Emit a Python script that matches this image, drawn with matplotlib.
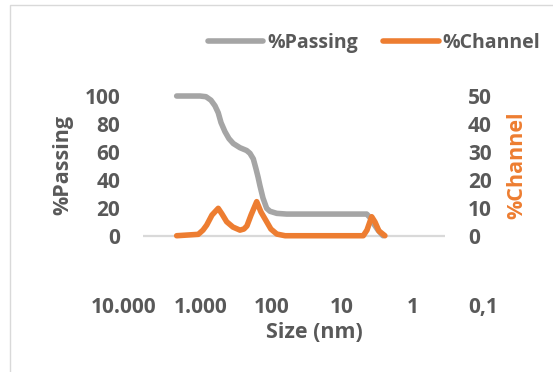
import matplotlib
matplotlib.use('Agg')
import matplotlib.pyplot as plt
import matplotlib.transforms as mtransforms
from matplotlib.patches import Rectangle

plt.rcParams['font.family'] = ['Open Sans', 'DejaVu Sans']
plt.rcParams['font.weight'] = 'bold'

# %Passing (left axis) vs size in nm
passing_size = [2212, 1432, 1033, 849, 722, 633, 569, 520, 457, 401, 348, 280,
                225, 202, 181, 166, 155, 146, 132, 117, 105, 84, 61, 4.46,
                4.0, 3.6, 3.08, 2.62]
passing = [100, 100, 100, 99.5, 97, 93, 88, 81, 74.5, 69.5, 66, 63,
           61, 59, 55, 48, 42, 36, 27, 19.6, 17.5, 16, 15.5, 15.5,
           13, 9, 4, 0]

# %Channel (right axis) vs size in nm
channel_size = [2212, 1092, 937, 830, 698, 569, 504, 432, 352, 280, 246, 223,
                195, 162, 141, 117, 102, 84, 64, 4.99, 4.42, 3.79, 3.4, 2.99, 2.46]
channel = [0, 0.5, 2, 3.8, 7.4, 9.8, 7.8, 5, 3.1, 2, 2.4, 3.5,
           7.4, 12.2, 8.5, 5, 2.4, 0.6, 0, 0, 2, 6.8, 4.9, 1.7, 0]

x_ticks = [10000, 1000, 100, 10, 1, 0.1]
x_labels = ['10.000', '1.000', '100', '10', '1', '0,1']
left_ticks = [0, 20, 40, 60, 80, 100]
right_ticks = [0, 10, 20, 30, 40, 50]

gray = '#A5A5A5'
orange = '#ED7D31'
txt = '#595959'
fs_tick = 15
fs_title = 15.5
fs_leg = 14

fig = plt.figure(figsize=(5.53, 3.72), dpi=100)
fig.patches.append(Rectangle((10 / 553, -0.1), 1.2, 1.1 - 5 / 372,
                             transform=fig.transFigure, fill=False,
                             edgecolor='#D9D9D9', lw=1))

ax = fig.add_axes([0.1722, 0.2161, 0.7649, 0.5258])
ax.set_xscale('log')
ax.set_xlim(10 ** 4.5, 10 ** -1.5)
ax.set_ylim(-40, 100)
ax.patch.set_alpha(0)

ax.hlines(0, 6650, 0.346, color='#D9D9D9', lw=1.6, zorder=1)
l1, = ax.plot(passing_size, passing, color=gray, lw=4, clip_on=False,
              solid_capstyle='round', solid_joinstyle='round', zorder=3,
              label='%Passing')

ax2 = ax.twinx()
ax2.set_ylim(-20, 50)
l2, = ax2.plot(channel_size, channel, color=orange, lw=4, clip_on=False,
               solid_capstyle='round', solid_joinstyle='round', zorder=3,
               label='%Channel')

for a in (ax, ax2):
    for s in a.spines.values():
        s.set_visible(False)
    a.tick_params(length=0, labelsize=fs_tick, labelcolor=txt)

ax.spines['left'].set_position(('data', 11970))
ax2.spines['right'].set_position(('data', 0.192))
ax.set_yticks(left_ticks)
ax2.set_yticks(right_ticks)
ax.set_xticks(x_ticks)
ax.set_xticklabels(x_labels)
ax.minorticks_off()
ax.tick_params(axis='x', pad=4)

# first label sits a bit to the left in the original
lab0 = ax.get_xticklabels()[0]
lab0.set_transform(lab0.get_transform() +
                   mtransforms.ScaledTranslation(-0.07, 0, fig.dpi_scale_trans))

fig.text(63 / 553, 1 - 165 / 372, '%Passing', rotation=90, ha='center',
         va='center', fontsize=fs_title, color=txt, fontweight='bold')
fig.text(517 / 553, 1 - 165 / 372, '%Channel', rotation=90, ha='center',
         va='center', fontsize=fs_title, color=orange, fontweight='bold')
fig.text(314 / 553, 1 - 333 / 372, 'Size (nm)', ha='center', va='center',
         fontsize=fs_title, color=txt, fontweight='bold')

leg = fig.legend(handles=[l1, l2], loc='center left',
                 bbox_to_anchor=(208 / 553, 1 - 43 / 372), ncol=2,
                 frameon=False, fontsize=fs_leg, borderpad=0, borderaxespad=0,
                 handlelength=2.85, handletextpad=0.2, columnspacing=1.3)
for t in leg.get_texts():
    t.set_color(txt)

fig.savefig('out.png', dpi=100)
